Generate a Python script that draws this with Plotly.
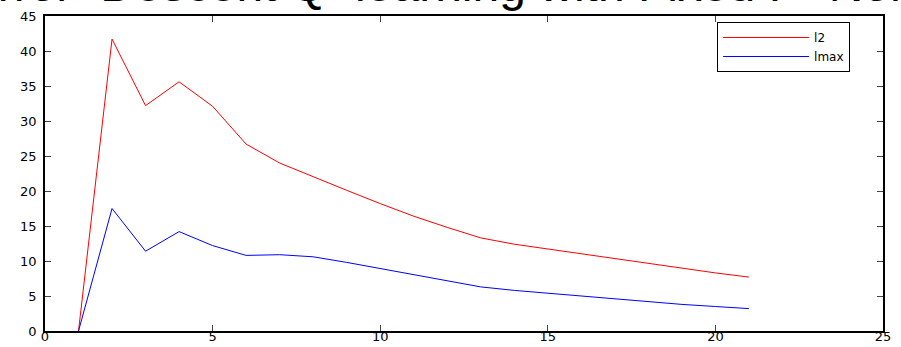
import plotly.graph_objects as go

iterations = list(range(1, 22))
l2_values = [0, 41.7, 32.2, 35.6, 32.1, 26.7, 24.0, 22.0, 20.1, 18.2, 16.4,
             14.8, 13.3, 12.4, 11.7, 11.0, 10.3, 9.6, 8.9, 8.3, 7.7]
lmax_values = [0, 17.5, 11.4, 14.2, 12.2, 10.8, 10.9, 10.6, 9.8, 8.9, 8.0,
               7.1, 6.3, 5.8, 5.4, 4.9, 4.6, 4.2, 3.8, 3.5, 3.2]
series_names = ["l2", "lmax"]
title_text = "Mirror\u2212Descent Q\u2212learning with Fixed P=Normal"

fig = go.Figure()
fig.add_trace(go.Scatter(x=iterations, y=l2_values, mode="lines", name=series_names[0],
                         line=dict(color="#ff0000", width=1)))
fig.add_trace(go.Scatter(x=iterations, y=lmax_values, mode="lines", name=series_names[1],
                         line=dict(color="#0000ff", width=1)))

axis_common = dict(showline=True, linecolor="black", linewidth=1.5, mirror="ticks",
                   ticks="inside", ticklen=6, tickcolor="#444", tickwidth=1,
                   showgrid=False, zeroline=False, automargin=False,
                   tickfont=dict(family="DejaVu Sans", size=13, color="black"))

fig.update_xaxes(range=[0, 25], dtick=5, tick0=0, ticklabelstandoff=-7, **axis_common)
fig.update_yaxes(range=[0, 45], dtick=5, tick0=0, ticklabelstandoff=4, **axis_common)

fig.add_annotation(text=title_text, xref="paper", yref="paper",
                   x=-0.1193, y=1.008, xanchor="left", yanchor="bottom",
                   showarrow=False,
                   font=dict(family="Liberation Sans", size=48, color="black"))

fig.update_layout(
    width=901, height=347,
    margin=dict(l=45, r=18, t=16, b=16),
    paper_bgcolor="white", plot_bgcolor="white",
    showlegend=True,
    hovermode=False,
    legend=dict(x=0.802, y=0.981, xanchor="left", yanchor="top",
                bgcolor="white", bordercolor="black", borderwidth=1,
                itemwidth=86, tracegroupgap=0,
                font=dict(family="DejaVu Sans", size=12, color="black")),
)

# remove the default page margin so the 901x347 figure fills the window exactly
fig.write_html("out.html", config={"displayModeBar": False},
               post_script="document.body.style.margin='0';")
